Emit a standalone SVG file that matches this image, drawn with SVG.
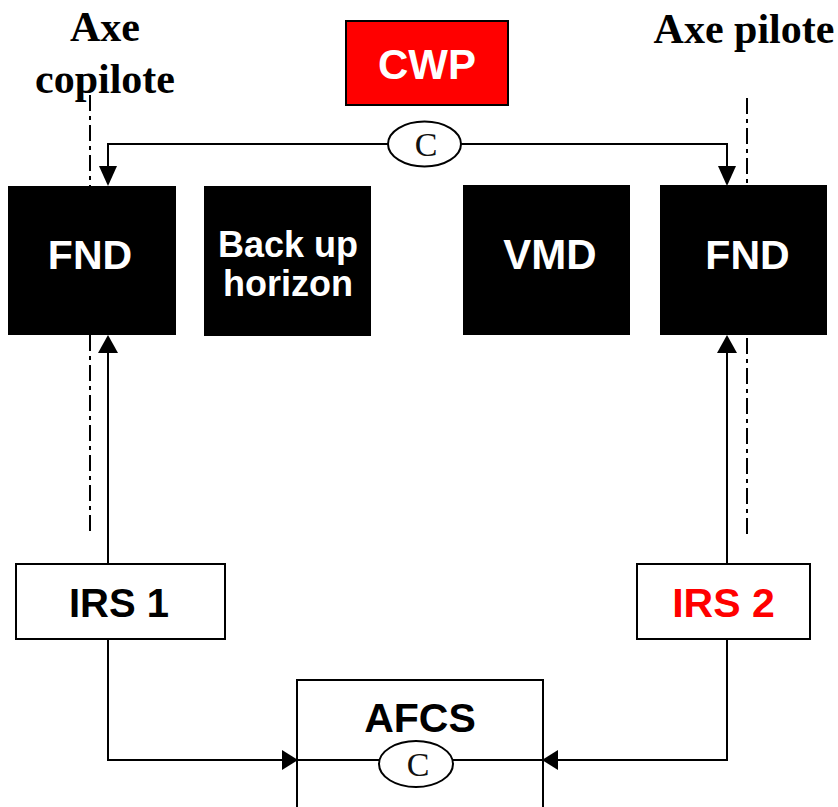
<svg xmlns="http://www.w3.org/2000/svg" width="838" height="807" viewBox="0 0 838 807">
  <style>
    .axis-label { font-family: "Liberation Serif", "Times New Roman", serif; font-weight: bold; font-size: 42px; fill: #000; }
    .lbl { font-family: "Liberation Sans", Arial, sans-serif; font-weight: bold; text-anchor: middle; }
    .dark { fill: #000; }
    .white-txt { fill: #fff; }
    .wire { fill: none; stroke: #000; stroke-width: 2; }
    .axis { fill: none; stroke: #000; stroke-width: 2; stroke-dasharray: 16 5 4 5; }
    .box { fill: #fff; stroke: #000; stroke-width: 2; }
    .coupler { fill: #fff; stroke: #000; stroke-width: 2; }
    .ctext { font-family: "Liberation Serif", "Times New Roman", serif; font-size: 34px; fill: #111; text-anchor: middle; }
  </style>
  <rect width="838" height="807" fill="#fff"/>

  <!-- axis labels -->
  <text class="axis-label" x="105" y="41" text-anchor="middle">Axe</text>
  <text class="axis-label" x="105" y="93" text-anchor="middle">copilote</text>
  <text class="axis-label" x="744" y="43" text-anchor="middle">Axe pilote</text>

  <!-- dash-dot seat axes -->
  <g id="axes">
    <line class="axis" x1="90" y1="95" x2="90" y2="532"/>
    <line class="axis" x1="747" y1="98" x2="747" y2="536"/>
  </g>

  <!-- connectors -->
  <g id="connectors">
    <!-- CWP cross-coupling to both FNDs -->
    <path class="wire" d="M388,144 H108 V167"/>
    <path class="wire" d="M461,144 H727 V167"/>
    <polygon points="99,166 117,166 108,186" fill="#000"/>
    <polygon points="718,166 736,166 727,186" fill="#000"/>
    <!-- IRS up to FNDs -->
    <line class="wire" x1="108" y1="564" x2="108" y2="352"/>
    <polygon points="98,353 118,353 108,335" fill="#000"/>
    <line class="wire" x1="727" y1="564" x2="727" y2="352"/>
    <polygon points="717,353 737,353 727,335" fill="#000"/>
    <!-- IRS down to AFCS -->
    <path class="wire" d="M108,639 V760 H283"/>
    <polygon points="282,750 282,770 298,760" fill="#000"/>
    <path class="wire" d="M727,639 V760 H557"/>
    <polygon points="558,750 558,770 542,760" fill="#000"/>
    <!-- AFCS internal coupling line -->
    <line class="wire" x1="297" y1="760" x2="543" y2="760"/>
  </g>

  <!-- top coupler -->
  <g id="coupler-top">
    <ellipse class="coupler" cx="424.5" cy="144" rx="36.5" ry="22.5"/>
    <text class="ctext" x="426" y="156">C</text>
  </g>

  <g id="cwp">
    <rect x="346" y="21" width="162" height="84" fill="#ff0000" stroke="#000" stroke-width="2"/>
    <text class="lbl white-txt" x="427" y="79" font-size="42">CWP</text>
  </g>

  <g id="fnd-left">
    <rect x="8" y="186" width="168" height="149" fill="#000"/>
    <text class="lbl white-txt" x="90" y="269" font-size="41">FND</text>
  </g>

  <g id="backup-horizon">
    <rect x="204" y="186" width="167" height="150" fill="#000"/>
    <text class="lbl white-txt" x="288" y="257" font-size="36">Back up</text>
    <text class="lbl white-txt" x="288" y="296" font-size="36">horizon</text>
  </g>

  <g id="vmd">
    <rect x="463" y="185" width="167" height="150" fill="#000"/>
    <text class="lbl white-txt" x="550" y="269" font-size="42">VMD</text>
  </g>

  <g id="fnd-right">
    <rect x="660" y="185" width="167" height="150" fill="#000"/>
    <text class="lbl white-txt" x="747.5" y="269" font-size="41">FND</text>
  </g>

  <g id="irs1">
    <rect class="box" x="16" y="564" width="209" height="75"/>
    <text class="lbl dark" x="119" y="617" font-size="40">IRS 1</text>
  </g>

  <g id="irs2">
    <rect class="box" x="637" y="564" width="173" height="75"/>
    <text class="lbl" x="723.5" y="617" font-size="41" fill="#ff0000">IRS 2</text>
  </g>

  <g id="afcs">
    <path class="wire" d="M297,810 V680 H543 V810"/>
    <text class="lbl dark" x="420" y="732" font-size="41">AFCS</text>
    <ellipse class="coupler" cx="416" cy="764" rx="37" ry="23"/>
    <text class="ctext" x="418" y="776">C</text>
  </g>
</svg>
